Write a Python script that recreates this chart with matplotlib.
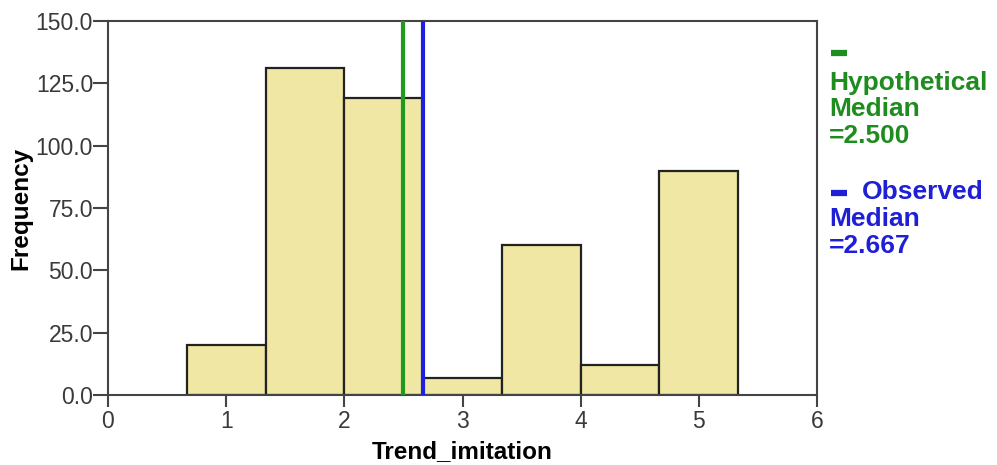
import numpy as np
import matplotlib.pyplot as plt
from matplotlib.lines import Line2D

# histogram of Trend_imitation, bin edges and counts
bin_edges = [0.667, 1.333, 2.0, 2.667, 3.333, 4.0, 4.667, 5.333]
counts = [20, 131, 119, 7, 60, 12, 90]
hyp_median = 2.500
obs_median = 2.667

x_ticks = [0, 1, 2, 3, 4, 5, 6]
y_ticks = [0, 25, 50, 75, 100, 125, 150]

plt.rcParams['font.family'] = ['Liberation Sans', 'DejaVu Sans']

W, H = 997, 465
PX = 72 / 100  # points per pixel at dpi=100
fig = plt.figure(figsize=(W / 100, H / 100), dpi=100)
ax = fig.add_axes([108 / W, 1 - 395 / H, (817 - 108) / W, (395 - 21) / H])

edges = np.array(bin_edges)
ax.bar(edges[:-1], counts, width=np.diff(edges), align='edge',
       color='#efe7a3', edgecolor='#222222', linewidth=1.6, zorder=2)

ax.axvline(hyp_median, color='#1e9a1e', linewidth=3, zorder=3)
ax.axvline(obs_median, color='#1f1fe0', linewidth=3, zorder=3)

ax.set_xlim(0, 6)
ax.set_ylim(0, 150)
ax.set_xticks(x_ticks)
ax.set_yticks(y_ticks)
ax.set_yticklabels([f'{v:.1f}' for v in y_ticks])

for s in ax.spines.values():
    s.set_color('#444444')
    s.set_linewidth(1.5)

ax.tick_params(axis='y', length=15 * PX, width=1.5, color='#444444',
               labelsize=16.5, labelcolor='#3a3a3a', pad=0)
ax.tick_params(axis='x', length=12 * PX, width=1.5, color='#444444',
               labelsize=16.5, labelcolor='#3a3a3a', pad=2)

ax.set_xlabel('Trend_imitation', fontsize=17.5, fontweight='bold', labelpad=5)
ax.set_ylabel('Frequency', fontsize=17.5, fontweight='bold', labelpad=2)

# median annotations on the right
green = '#1e8c1e'
blue = '#1f1fd6'
fs = 19


def fy(py):
    return 1 - py / H


def swatch(py, color):
    fig.add_artist(Line2D([831 / W, 847 / W], [fy(py), fy(py)], color=color,
                          linewidth=4.5, solid_capstyle='butt',
                          transform=fig.transFigure))


swatch(53, green)
for i, t in enumerate(['Hypothetical', 'Median', f'={hyp_median:.3f}']):
    fig.text(829 / W, fy(83 + i * 26.5), t, color=green, fontsize=fs,
             fontweight='bold', va='center')

swatch(193, blue)
fig.text(862 / W, fy(192), 'Observed', color=blue, fontsize=fs,
         fontweight='bold', va='center')
for i, t in enumerate(['Median', f'={obs_median:.3f}']):
    fig.text(829 / W, fy(219 + i * 26.5), t, color=blue, fontsize=fs,
             fontweight='bold', va='center')

fig.savefig('out.png', dpi=100)
